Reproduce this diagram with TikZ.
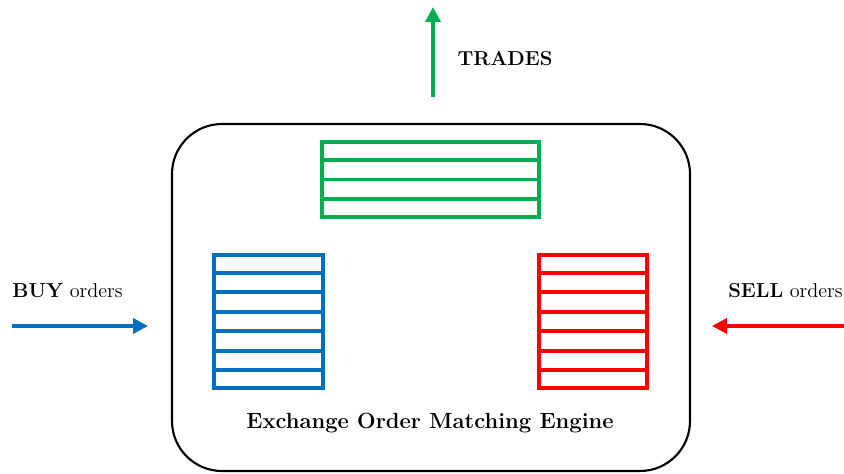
\documentclass[tikz,border=0pt]{standalone}
\usepackage{tikz}
\usetikzlibrary{shapes.geometric, arrows.meta, calc}
\definecolor{OBblue}{HTML}{0070C0}
\definecolor{OBred}{HTML}{FF0000}
\definecolor{OBgreen}{HTML}{00B050}
\tikzstyle{engine} = [rectangle, rounded corners=1cm, minimum width=10.36cm, minimum height=6.94cm, draw=black, line width=1.2pt]
\tikzstyle{book} = [rectangle, inner sep=0pt, line width=2.2pt]
\tikzstyle{label} = [inner sep=0pt, font=\fontsize{11.5}{14}\selectfont]
\tikzstyle{arrow} = [line width=2pt, -{Triangle[length=3mm,width=3mm]}]

\begin{document}
\begin{tikzpicture}

\useasboundingbox (0,0) rectangle (16.88,9.46);

\node (engine) [engine] at (8.62,3.51) {};
\node (enginelabel) [label, font=\fontsize{12.5}{15}\selectfont\bfseries] at (8.60,1.00) {Exchange Order Matching Engine};

\node (tradebook) [book, draw=OBgreen, minimum width=4.34cm, minimum height=1.50cm] at (8.61,5.87) {};
\node (buybook) [book, draw=OBblue, minimum width=2.18cm, minimum height=2.66cm] at (5.37,3.03) {};
\node (sellbook) [book, draw=OBred, minimum width=2.16cm, minimum height=2.66cm] at (11.86,3.03) {};

% rows of each book
\foreach \i in {1,...,3}
  \draw [OBgreen, line width=2.2pt] ($(tradebook.north west)!\i/4!(tradebook.south west)$) -- ($(tradebook.north east)!\i/4!(tradebook.south east)$);
\foreach \i in {1,...,6}
{
  \draw [OBblue, line width=2.2pt] ($(buybook.north west)!\i/7!(buybook.south west)$) -- ($(buybook.north east)!\i/7!(buybook.south east)$);
  \draw [OBred, line width=2.2pt] ($(sellbook.north west)!\i/7!(sellbook.south west)$) -- ($(sellbook.north east)!\i/7!(sellbook.south east)$);
}

\node (buylabel) [label, anchor=west] at (0.24,3.64) {\textbf{BUY} orders};
\node (selllabel) [label, anchor=west] at (14.56,3.64) {\textbf{SELL} orders};
\node (tradeslabel) [label, font=\fontsize{11.5}{14}\selectfont\bfseries] at (10.10,8.28) {TRADES};

\coordinate (buyin) at (0.24,2.94);
\coordinate (buyend) at (2.96,2.94);
\coordinate (sellin) at (16.88,2.94);
\coordinate (sellend) at (14.24,2.94);
\coordinate (tradeend) at (8.66,9.32);

\draw [arrow, OBblue] (buyin) -- (buyend);
\draw [arrow, OBred] (sellin) -- (sellend);
\draw [arrow, OBgreen] (engine.north -| tradeend) ++(0,0.52) -- (tradeend);

\end{tikzpicture}
\end{document}
